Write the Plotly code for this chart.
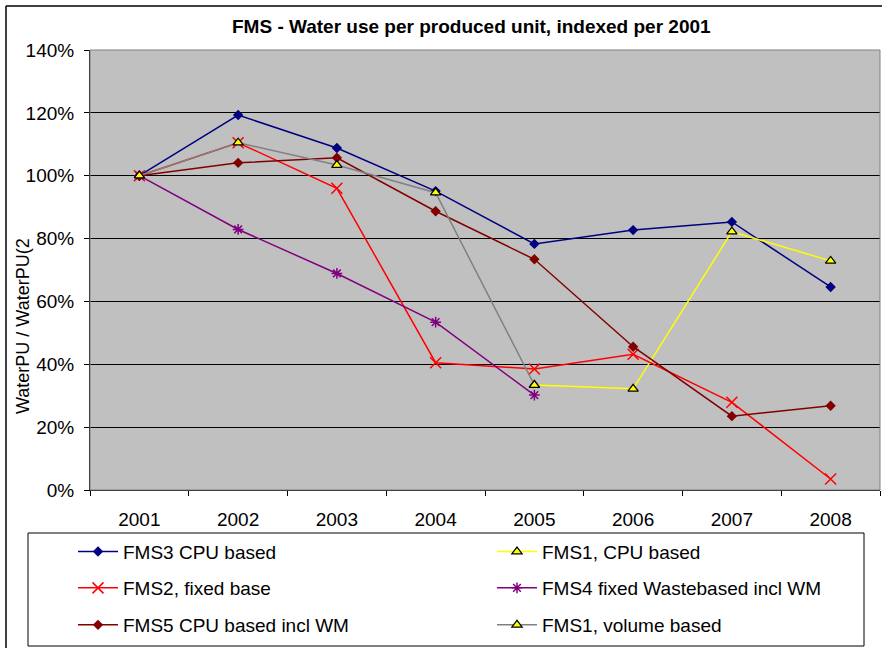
import plotly.graph_objects as go

years = ["2001", "2002", "2003", "2004", "2005", "2006", "2007", "2008"]

fms3_cpu = [1.00, 1.193, 1.088, 0.951, 0.783, 0.827, 0.853, 0.646]
fms1_cpu = [None, None, None, None, 0.334, 0.322, 0.822, 0.729]
fms2_fixed = [1.00, 1.105, 0.960, 0.405, 0.385, 0.432, 0.279, 0.035]
fms4_waste = [1.00, 0.829, 0.689, 0.534, 0.302, None, None, None]
fms5_cpu_wm = [1.00, 1.041, 1.057, 0.887, 0.734, 0.456, 0.235, 0.268]
fms1_volume = [1.00, 1.105, 1.034, 0.946, 0.334, None, None, None]

W, H = 882, 648
L, R, T, B = 90, 880, 50, 490


def px(x):
    return (x - L) / (R - L)


def py(y):
    return (B - y) / (B - T)


FONT = "Liberation Sans, Arial, sans-serif"

fig = go.Figure()

series = [
    ("FMS3 CPU based", fms3_cpu, "#000080", dict(symbol="diamond", size=8, color="#000080"), "legend"),
    ("FMS1, CPU based", fms1_cpu, "#FFFF00", dict(symbol="triangle-up", size=9, color="#FFFF00", line=dict(color="black", width=1.2)), "legend"),
    ("FMS2, fixed base", fms2_fixed, "#FF0000", dict(symbol="x-thin-open", size=11, color="#FF0000", line=dict(color="#FF0000", width=1.5)), "legend2"),
    ("FMS4 fixed Wastebased incl WM", fms4_waste, "#800080", dict(symbol="asterisk-open", size=9, color="#800080", line=dict(color="#800080", width=1.5)), "legend2"),
    ("FMS5 CPU based incl WM", fms5_cpu_wm, "#800000", dict(symbol="diamond", size=8, color="#800000"), "legend3"),
    ("FMS1, volume based", fms1_volume, "#808080", dict(symbol="triangle-up", size=9, color="#FFFF00", line=dict(color="black", width=1.2)), "legend3"),
]

for name, vals, col, mk, lg in series:
    fig.add_trace(go.Scatter(
        x=years, y=vals, name=name, mode="lines+markers",
        line=dict(color=col, width=1.5), marker=mk, legend=lg,
        connectgaps=False,
    ))

legend_common = dict(
    orientation="h", entrywidth=364, entrywidthmode="pixels",
    itemwidth=40,
    bgcolor="rgba(0,0,0,0)", borderwidth=0,
    font=dict(family=FONT, size=19, color="black"),
    xanchor="left", yanchor="middle", x=px(73),
)

fig.update_layout(
    width=W, height=H,
    margin=dict(l=L, r=W - R, t=T, b=H - B, pad=0, autoexpand=False),
    paper_bgcolor="white", plot_bgcolor="#C0C0C0",
    font=dict(family=FONT, size=19, color="black"),
    showlegend=True,
    legend=dict(legend_common, y=py(551.7)),
    legend2=dict(legend_common, y=py(588)),
    legend3=dict(legend_common, y=py(625)),
    xaxis=dict(
        type="category", tickson="boundaries", ticks="outside", ticklen=5,
        tickcolor="black", showline=True, linecolor="black", linewidth=1,
        showgrid=False, ticklabelstandoff=12,
        tickfont=dict(family=FONT, size=19, color="black"),
        range=[-0.5, 7.5],
    ),
    yaxis=dict(
        range=[0, 1.4], dtick=0.2, tickformat=".0%", ticks="outside", ticklen=5,
        tickcolor="black", showline=True, linecolor="black", linewidth=1,
        showgrid=True, gridcolor="black", gridwidth=1, zeroline=False,
        ticklabelstandoff=6,
        tickfont=dict(family=FONT, size=19, color="black"),
    ),
    annotations=[
        dict(text="<b>FMS - Water use per produced unit, indexed per 2001</b>",
             xref="paper", yref="paper", x=px(471.5), y=py(26),
             xanchor="center", yanchor="middle", showarrow=False,
             font=dict(family=FONT, size=19, color="black")),
        dict(text="WaterPU / WaterPU(2", textangle=-90,
             xref="paper", yref="paper", x=px(23), y=py(326),
             xanchor="center", yanchor="middle", showarrow=False,
             font=dict(family=FONT, size=18, color="black")),
    ],
    shapes=[
        dict(type="rect", xref="paper", yref="paper", x0=0, x1=1, y0=0, y1=1,
             line=dict(color="#808080", width=1), layer="above"),
        dict(type="rect", xref="paper", yref="paper", x0=px(28), x1=px(864),
             y0=py(533), y1=py(646), line=dict(color="black", width=1), layer="below"),
        dict(type="line", xref="paper", yref="paper", x0=px(6), x1=px(900),
             y0=py(6), y1=py(6), line=dict(color="black", width=1.5)),
        dict(type="line", xref="paper", yref="paper", x0=px(6), x1=px(6),
             y0=py(6), y1=py(700), line=dict(color="black", width=1.5)),
    ],
)

fig.write_html(
    "out.html",
    config={"displayModeBar": False},
    post_script="document.body.style.margin='0';document.body.style.padding='0';",
)
